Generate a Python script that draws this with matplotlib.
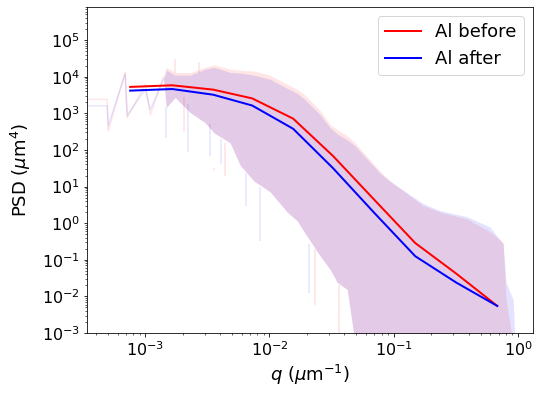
import matplotlib
matplotlib.use('Agg')
import matplotlib.pyplot as plt
import numpy as np

# binned PSD curves
q_bin = [7.57e-4, 1.65e-3, 3.52e-3, 7.26e-3, 1.55e-2, 3.25e-2, 6.95e-2, 0.149, 0.318, 0.68]
psd_before = [5250, 5820, 4430, 2550, 715, 68, 4.4, 0.286, 0.042, 0.0055]
psd_after = [4160, 4600, 3220, 1630, 378, 31.6, 1.93, 0.125, 0.0239, 0.0055]

# raw PSD at the lowest q (sparse points)
q_raw_low = [3.0e-4, 4.94e-4, 5.04e-4, 6.90e-4, 7.16e-4, 1.0e-3, 1.10e-3, 1.40e-3]
raw_low_before = [2400, 2400, 330, 13000, 760, 6200, 910, 9800]
raw_low_after = [1600, 1600, 460, 12000, 870, 4500, 1260, 8300]

# envelope of the noisy raw PSD
q_env = [1.40e-3, 1.48e-3, 1.74e-3, 2.30e-3, 3.04e-3, 3.59e-3, 4.83e-3, 5.81e-3,
         7.53e-3, 1.01e-2, 1.39e-2, 1.67e-2, 1.90e-2, 2.56e-2, 3.08e-2, 3.51e-2,
         4.22e-2, 4.89e-2, 7.78e-2, 9.35e-2, 0.173, 0.236, 0.389, 0.597, 0.759,
         0.802, 0.914, 0.948]
hi_before = [9800, 18000, 13000, 13000, 18000, 21000, 16000, 15000,
             14200, 11000, 6200, 4500, 3300, 1190, 490, 355,
             242, 155, 26, 14, 3.0, 2.0, 1.3, 0.58, 0.30,
             0.0081, 5e-4, 5e-4]
hi_after = [8300, 15000, 11000, 11000, 16000, 18000, 13000, 12500,
            11000, 8500, 4800, 3500, 2500, 920, 400, 275,
            188, 128, 23, 14, 3.4, 2.2, 1.5, 0.78, 0.27,
            0.024, 0.0081, 5e-4]
lo_before = [9800, 1440, 2700, 1050, 550, 290, 155, 38,
             14, 7.2, 2.0, 1.16, 0.58, 0.126, 0.054, 0.024,
             0.0155, 5e-4, 5e-4, 5e-4, 5e-4, 5e-4, 5e-4, 5e-4, 5e-4,
             5e-4, 5e-4, 5e-4]
lo_after = [8300, 1440, 2700, 1050, 550, 290, 155, 38,
            14, 7.2, 2.0, 1.16, 0.58, 0.126, 0.054, 0.024,
            0.0155, 5e-4, 5e-4, 5e-4, 5e-4, 5e-4, 5e-4, 5e-4, 5e-4,
            5e-4, 5e-4, 5e-4]

# single spikes sticking out of the band
spike_q_before = [1.74e-3, 2.05e-3, 2.70e-3, 3.59e-3, 4.40e-3, 2.33e-2, 3.64e-2]
spike_top_before = [30000, 2700, 25000, 32, 150, 0.2, 0.02]
spike_bot_before = [13000, 300, 13000, 26, 20, 0.0059, 1e-3]
spike_q_after = [1.48e-3, 2.20e-3, 3.30e-3, 4.10e-3, 6.50e-3, 8.41e-3, 2.08e-2]
spike_top_after = [1440, 1800, 500, 200, 24, 10, 0.27]
spike_bot_after = [210, 90, 70, 40, 3.0, 0.32, 0.0126]

fig = plt.figure(figsize=(541 / 72, 397 / 72), dpi=72)
ax = fig.add_axes([0.1608, 0.1612, 0.8244, 0.8212])

ax.fill_between(q_env, lo_before, hi_before, color='red', alpha=0.1, lw=0)
ax.plot(q_raw_low, raw_low_before, color='red', alpha=0.1, lw=1.5)
ax.vlines(spike_q_before, spike_bot_before, spike_top_before, color='red', alpha=0.12, lw=1.5)
ax.fill_between(q_env, lo_after, hi_after, color='blue', alpha=0.11, lw=0)
ax.plot(q_raw_low, raw_low_after, color='blue', alpha=0.1, lw=1.5)
ax.vlines(spike_q_after, spike_bot_after, spike_top_after, color='blue', alpha=0.1, lw=1.5)

ax.plot(q_bin, psd_before, color='red', lw=2, label='Al before')
ax.plot(q_bin, psd_after, color='blue', lw=2, label='Al after')

ax.set_xscale('log')
ax.set_yscale('log')
ax.set_xlim(3.4e-4, 1.32)
ax.set_ylim(1e-3, 8e5)
ax.tick_params(labelsize=16)
ax.set_xlabel(r'$q$ ($\mu$m$^{-1}$)', fontsize=18)
ax.set_ylabel(r'PSD ($\mu$m$^4$)', fontsize=18, labelpad=9)
ax.legend(loc='upper right', fontsize=18)

fig.savefig('out.png', dpi=72)
